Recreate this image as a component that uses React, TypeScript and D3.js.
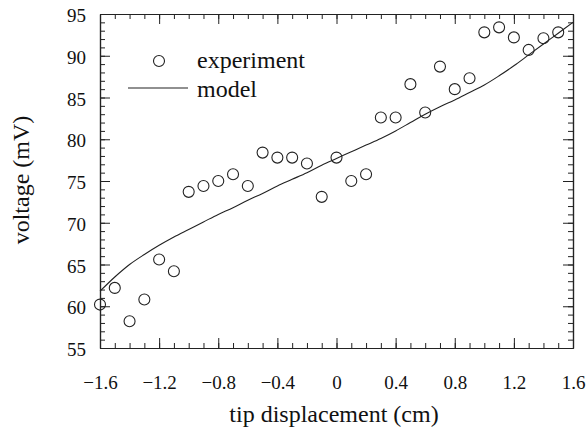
import * as d3 from "d3";
import { useEffect, useRef } from "react";

const width = 587;
const height = 436;
const margin = { top: 14, right: 14, bottom: 88, left: 100 };

// experiment: displacement every 0.1 cm from -1.6 to 1.5
const expX = [
  -1.6, -1.5, -1.4, -1.3, -1.2, -1.1, -1.0, -0.9, -0.8, -0.7, -0.6, -0.5, -0.4,
  -0.3, -0.2, -0.1, 0, 0.1, 0.2, 0.3, 0.4, 0.5, 0.6, 0.7, 0.8, 0.9, 1.0, 1.1,
  1.2, 1.3, 1.4, 1.5,
];
const expV = [
  60.2, 62.2, 58.2, 60.8, 65.6, 64.2, 73.7, 74.4, 75.0, 75.8, 74.4, 78.4, 77.8,
  77.8, 77.1, 73.1, 77.8, 75.0, 75.8, 82.6, 82.6, 86.6, 83.2, 88.7, 86.0, 87.3,
  92.8, 93.4, 92.2, 90.7, 92.1, 92.8,
];

// model curve
const modelX = [
  -1.6, -1.5, -1.4, -1.3, -1.2, -1.1, -1.0, -0.9, -0.8, -0.7, -0.6, -0.5, -0.4,
  -0.3, -0.2, -0.1, 0, 0.1, 0.2, 0.3, 0.4, 0.5, 0.6, 0.7, 0.8, 0.9, 1.0, 1.1,
  1.2, 1.3, 1.4, 1.5, 1.6,
];
const modelV = [
  61.8, 63.5, 65.0, 66.2, 67.3, 68.3, 69.2, 70.1, 71.0, 71.8, 72.7, 73.5, 74.4,
  75.2, 76.0, 76.9, 77.7, 78.5, 79.3, 80.1, 81.0, 82.0, 83.0, 83.9, 84.7, 85.6,
  86.5, 87.6, 88.8, 90.1, 91.4, 92.7, 94.0,
];

const xMajor = [-1.6, -1.2, -0.8, -0.4, 0, 0.4, 0.8, 1.2, 1.6];
const yMajor = [55, 60, 65, 70, 75, 80, 85, 90, 95];

const font = "'Liberation Serif', 'Times New Roman', serif";

export default function App() {
  const svgRef = useRef<SVGSVGElement>(null);

  useEffect(() => {
    if (!svgRef.current) return;
    const svg = d3.select(svgRef.current);
    svg.selectAll("*").remove();

    const plotRight = width - margin.right;
    const plotBottom = height - margin.bottom;

    const x = d3.scaleLinear().domain([-1.6, 1.6]).range([margin.left, plotRight]);
    const y = d3.scaleLinear().domain([55, 95]).range([plotBottom, margin.top]);

    const xMinor = d3.range(-16, 17).map((d) => d / 10);
    const yMinor = d3.range(55, 96);

    const styleAxis = (g: any) => {
      g.selectAll("path").attr("stroke", "#222").attr("stroke-width", 1.2);
      g.selectAll("line").attr("stroke", "#222").attr("stroke-width", 1);
      g.selectAll("text")
        .attr("fill", "#111")
        .style("font-family", font)
        .style("font-size", "19px");
    };

    // minor ticks on all four sides, pointing inward
    const sides: [any, string][] = [
      [d3.axisBottom(x).tickValues(xMinor).tickSize(-5).tickFormat(() => ""), `translate(0,${plotBottom})`],
      [d3.axisTop(x).tickValues(xMinor).tickSize(-5).tickFormat(() => ""), `translate(0,${margin.top})`],
      [d3.axisLeft(y).tickValues(yMinor).tickSize(-5).tickFormat(() => ""), `translate(${margin.left},0)`],
      [d3.axisRight(y).tickValues(yMinor).tickSize(-5).tickFormat(() => ""), `translate(${plotRight},0)`],
    ];
    sides.forEach(([axis, tr]) => {
      svg.append("g").attr("transform", tr).call(axis.tickSizeOuter(0)).call(styleAxis);
    });

    svg
      .append("g")
      .attr("transform", `translate(0,${plotBottom})`)
      .call(
        d3.axisBottom(x).tickValues(xMajor).tickSizeInner(-10).tickSizeOuter(0).tickPadding(28)
          .tickFormat((d) => d3.format("")(+d))
      )
      .call(styleAxis)
      .call((g) => g.selectAll("text").attr("dy", "0.71em"));

    svg
      .append("g")
      .attr("transform", `translate(0,${margin.top})`)
      .call(d3.axisTop(x).tickValues(xMajor).tickSizeInner(-10).tickSizeOuter(0).tickFormat(() => ""))
      .call(styleAxis);

    svg
      .append("g")
      .attr("transform", `translate(${margin.left},0)`)
      .call(d3.axisLeft(y).tickValues(yMajor).tickSizeInner(-10).tickSizeOuter(0).tickPadding(14))
      .call(styleAxis)
      .call((g) => g.selectAll("text").attr("dy", "0.4em"));

    svg
      .append("g")
      .attr("transform", `translate(${plotRight},0)`)
      .call(d3.axisRight(y).tickValues(yMajor).tickSizeInner(-10).tickSizeOuter(0).tickFormat(() => ""))
      .call(styleAxis);

    // model curve
    const line = d3
      .line<number>()
      .x((_, i) => x(modelX[i]))
      .y((d) => y(d))
      .curve(d3.curveCatmullRom);

    svg
      .append("path")
      .datum(modelV)
      .attr("d", line)
      .attr("fill", "none")
      .attr("stroke", "#222")
      .attr("stroke-width", 1.1);

    // experiment points
    svg
      .append("g")
      .selectAll("circle")
      .data(expV)
      .join("circle")
      .attr("cx", (_, i) => x(expX[i]))
      .attr("cy", (d) => y(d))
      .attr("r", 5.5)
      .attr("fill", "none")
      .attr("stroke", "#222")
      .attr("stroke-width", 1.1);

    // legend
    const legend = svg.append("g");
    legend
      .append("circle")
      .attr("cx", 159)
      .attr("cy", 61)
      .attr("r", 5.5)
      .attr("fill", "none")
      .attr("stroke", "#222")
      .attr("stroke-width", 1.1);
    legend
      .append("text")
      .attr("x", 197)
      .attr("y", 68)
      .attr("fill", "#111")
      .style("font-family", font)
      .style("font-size", "24px")
      .text("experiment");
    legend
      .append("line")
      .attr("x1", 128)
      .attr("x2", 188)
      .attr("y1", 88)
      .attr("y2", 88)
      .attr("stroke", "#222")
      .attr("stroke-width", 1.1);
    legend
      .append("text")
      .attr("x", 197)
      .attr("y", 97)
      .attr("fill", "#111")
      .style("font-family", font)
      .style("font-size", "24px")
      .text("model");

    // axis titles
    svg
      .append("text")
      .attr("x", 334)
      .attr("y", 422)
      .attr("text-anchor", "middle")
      .attr("fill", "#111")
      .style("font-family", font)
      .style("font-size", "24px")
      .text("tip displacement (cm)");

    svg
      .append("text")
      .attr("transform", "translate(29,180) rotate(-90)")
      .attr("text-anchor", "middle")
      .attr("fill", "#111")
      .style("font-family", font)
      .style("font-size", "24px")
      .text("voltage (mV)");
  }, []);

  return (
    <svg
      ref={svgRef}
      width={width}
      height={height}
      style={{ position: "fixed", left: 0, top: 0, background: "#fff" }}
    />
  );
}
